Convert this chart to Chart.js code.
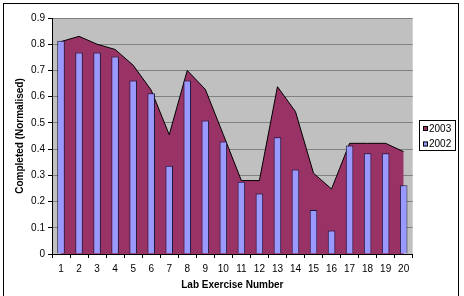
<!DOCTYPE html>
<html>
<head>
<meta charset="utf-8">
<script src="https://cdn.jsdelivr.net/npm/chart.js@4.4.1/dist/chart.umd.min.js"></script>
<style>
  html, body { margin: 0; padding: 0; background: #fff; }
  #wrap { width: 464px; height: 296px; }
</style>
</head>
<body>
<div id="wrap"><canvas id="chart" width="464" height="296"></canvas></div>
<script>
// data
const labels = ['1', '2', '3', '4', '5', '6', '7', '8', '9', '10',
  '11', '12', '13', '14', '15', '16', '17', '18', '19', '20'];
const completed2003 = [0.81, 0.83, 0.80, 0.78, 0.72, 0.625, 0.455, 0.70, 0.628, 0.455,
  0.28, 0.28, 0.638, 0.543, 0.308, 0.248, 0.422, 0.422, 0.422, 0.39];
const completed2002 = [0.813, 0.768, 0.768, 0.753, 0.662, 0.613, 0.337, 0.662, 0.509, 0.429,
  0.276, 0.231, 0.445, 0.322, 0.168, 0.09, 0.414, 0.384, 0.384, 0.262];
const yTicks = [0, 0.1, 0.2, 0.3, 0.4, 0.5, 0.6, 0.7, 0.8, 0.9];

const FONT = "'Liberation Sans', Arial, sans-serif";

// grey plot area, outer frame and the boxed legend on the right
const plotBg = {
  id: 'plotBg',
  beforeDraw: function(chart) {
    const ctx = chart.ctx;
    const a = chart.chartArea;
    ctx.save();
    ctx.fillStyle = '#ffffff';
    ctx.fillRect(0, 0, chart.width, chart.height);
    ctx.fillStyle = '#c0c0c0';
    ctx.fillRect(a.left, a.top, a.right - a.left, a.bottom - a.top);
    ctx.restore();
  },
  afterDraw: function(chart) {
    const ctx = chart.ctx;
    ctx.save();
    ctx.strokeStyle = '#000';
    ctx.lineWidth = 1;
    // outer frame (bottom edge is cut off in the original)
    ctx.strokeRect(3.5, 3.5, 455, 310);
    // legend
    ctx.strokeRect(419.5, 120.5, 36, 30);
    const dsets = chart.data.datasets;
    ctx.font = '10px ' + FONT;
    ctx.textBaseline = 'middle';
    dsets.forEach(function(ds, i) {
      const y = 126 + i * 15.5;
      ctx.fillStyle = ds.backgroundColor;
      ctx.fillRect(423, y, 5, 5);
      ctx.strokeStyle = '#000';
      ctx.strokeRect(423.5, y + 0.5, 4, 4);
      ctx.fillStyle = '#000';
      ctx.fillText(ds.label, 429, y + 3);
    });
    ctx.restore();
  }
};

const ctx = document.getElementById('chart').getContext('2d');
const chart = new Chart(ctx, {
  type: 'bar',
  data: {
    labels: labels,
    datasets: [{
      type: 'line',
      label: '2003',
      data: completed2003,
      order: 2,
      fill: 'origin',
      backgroundColor: '#993366',
      borderColor: '#000000',
      borderWidth: 1,
      tension: 0,
      pointRadius: 0,
      pointHoverRadius: 0
    }, {
      type: 'bar',
      label: '2002',
      data: completed2002,
      order: 1,
      backgroundColor: '#9999ff',
      borderColor: '#1a1a40',
      borderWidth: 1,
      barPercentage: 0.42,
      categoryPercentage: 1
    }]
  },
  options: {
    responsive: false,
    animation: false,
    events: [],
    layout: { padding: { left: 4, top: 18, right: 51.3, bottom: 4 } },
    plugins: {
      tooltip: { enabled: false },
      legend: { display: false }
    },
    scales: {
      x: {
        offset: true,
        grid: {
          offset: true,
          drawOnChartArea: false,
          drawTicks: true,
          tickLength: 4,
          color: '#000'
        },
        border: { display: true, color: '#000' },
        ticks: {
          font: { family: FONT, size: 10 },
          color: '#000',
          padding: 5,
          maxRotation: 0,
          autoSkip: false
        },
        title: {
          display: true,
          text: 'Lab Exercise Number',
          font: { family: FONT, size: 10, weight: 'bold' },
          color: '#000',
          padding: { top: 0, bottom: 1 }
        },
        afterFit: function(scale) { scale.height = 38; }
      },
      y: {
        min: 0,
        max: 0.9,
        afterBuildTicks: function(scale) {
          scale.ticks = yTicks.map(function(v) { return { value: v }; });
        },
        grid: {
          color: '#808080',
          tickColor: '#000',
          tickLength: 4,
          drawTicks: true
        },
        border: { display: true, color: '#000' },
        ticks: {
          font: { family: FONT, size: 10 },
          color: '#000',
          padding: 3,
          callback: function(v) { return String(Number(v.toFixed(1))); }
        },
        title: {
          display: true,
          text: 'Completed (Normalised)',
          font: { family: FONT, size: 10, weight: 'bold' },
          color: '#000',
          padding: { top: 10, bottom: 0 }
        },
        afterFit: function(scale) { scale.width = 48; }
      }
    }
  },
  plugins: [plotBg]
});
</script>
</body>
</html>
